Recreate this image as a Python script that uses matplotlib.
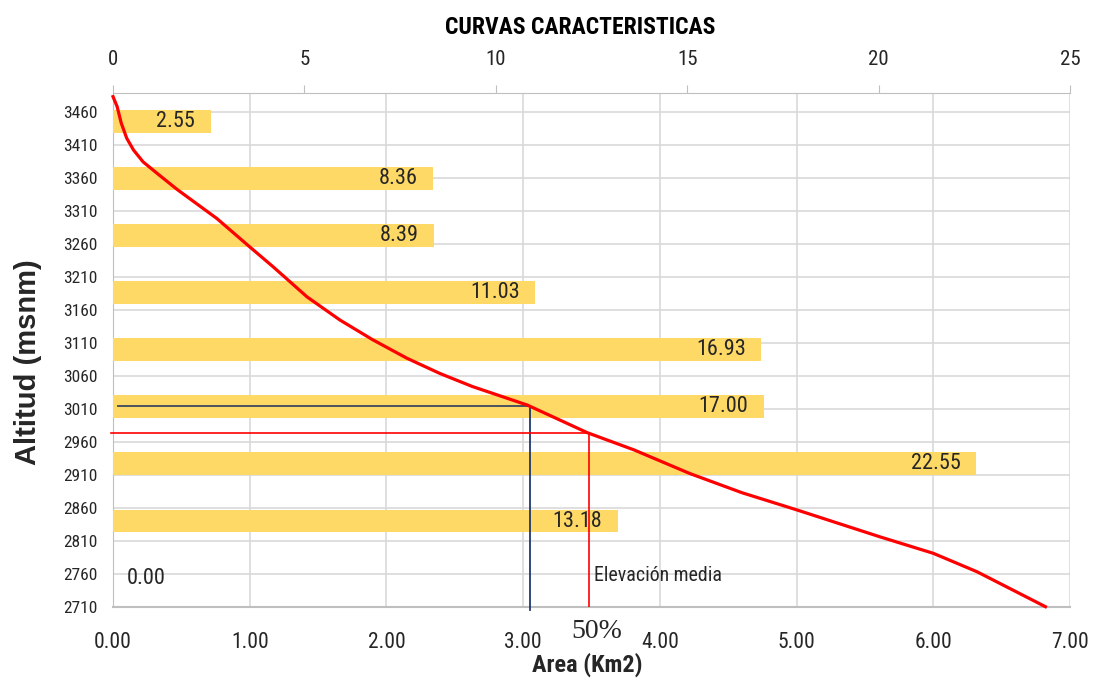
import numpy as np
import matplotlib
matplotlib.use('Agg')
import matplotlib.pyplot as plt

# Hypsometric curve (area km2 vs altitude msnm)
area = [0.00, 0.03, 0.06, 0.10, 0.15, 0.22, 0.32, 0.47, 0.76, 1.00, 1.17, 1.42,
        1.66, 1.90, 2.15, 2.39, 2.63, 3.03, 3.47, 3.81, 4.22, 4.60, 5.00,
        5.61, 6.00, 6.32, 6.82]
altitud = [3484, 3469, 3444, 3421, 3403, 3385, 3368, 3343, 3299, 3256, 3226, 3180,
           3145, 3115, 3087, 3064, 3044, 3016, 2974, 2948, 2912, 2883, 2857,
           2816, 2791, 2763, 2710]

# Frequency bars (% of area per altitude band), top to bottom
porcentaje = [2.55, 8.36, 8.39, 11.03, 16.93, 17.00, 22.55, 13.18, 0.00]

# Guide lines
moda_area, moda_alt = 3.05, 3015
media_area, media_alt = 3.48, 2974

y_ticks = list(range(2710, 3461, 50))
x_ticks = list(range(0, 8))
top_ticks = [0, 5, 10, 15, 20, 25]

narrow = ['Roboto Condensed', 'DejaVu Sans']
grey = '#bfbfbf'
txt = '#262626'

fig = plt.figure(figsize=(10.94, 6.81), dpi=100)
rect = [0.1033, 0.1091, 0.8748, 0.7548]

# base axes: grid + ticks
ax = fig.add_axes(rect)
ax.set_xlim(0, 7)
ax.set_ylim(2710, 3490)
ax.set_xticks(x_ticks)
ax.set_xticklabels([f'{v:.2f}' for v in x_ticks], family=narrow, fontsize=15.5, color=txt)
ax.set_yticks(y_ticks)
ax.set_yticklabels([str(v) for v in y_ticks], family=narrow, fontsize=12.5, color=txt)
ax.grid(color='#d9d9d9', lw=1.2)
ax.tick_params(axis='x', length=0, pad=18)
ax.tick_params(axis='y', length=0, pad=11)
for s in ['top', 'right']:
    ax.spines[s].set_visible(False)
ax.spines['left'].set_color(grey)
ax.spines['bottom'].set_color(grey)
ax.spines['bottom'].set_linewidth(1.5)

# bars on top axis
axb = fig.add_axes(rect, facecolor='none')
cats = np.arange(len(porcentaje))
axb.barh(cats, porcentaje, height=0.4, color='#ffd966')
axb.set_xlim(0, 25)
axb.set_ylim(len(porcentaje) - 0.5, -0.5)
axb.set_yticks([])
axb.xaxis.tick_top()
axb.set_xticks(top_ticks)
axb.set_xticklabels([str(v) for v in top_ticks], family=narrow, fontsize=15, color=txt)
axb.tick_params(axis='x', length=6, color=grey, pad=11)
for s in ['bottom', 'left', 'right']:
    axb.spines[s].set_visible(False)
axb.spines['top'].set_color(grey)
for c, p in zip(cats, porcentaje):
    if p > 0:
        axb.annotate(f'{p:.2f}', (p, c), xytext=(-11, 0), textcoords='offset points',
                     ha='right', va='center', family=narrow, fontsize=16, color=txt)
    else:
        axb.annotate(f'{p:.2f}', (p, c), xytext=(10, 0), textcoords='offset points',
                     ha='left', va='center', family=narrow, fontsize=16, color=txt)

# curve and guide lines on top
axl = fig.add_axes(rect, facecolor='none', sharex=ax, sharey=ax)
axl.axis('off')
axl.plot([0.04, moda_area], [moda_alt, moda_alt], color='#3b4660', lw=1.3)
axl.plot([moda_area, moda_area], [moda_alt, 2705], color='#203870', lw=1.3, clip_on=False)
axl.plot([-0.015, media_area], [media_alt, media_alt], color='red', lw=1.2, clip_on=False)
axl.plot([media_area, media_area], [media_alt, 2710], color='red', lw=1.2)
axl.plot(area, altitud, color='red', lw=2.3, clip_on=False, solid_joinstyle='round')
axl.annotate('Elevación media', (media_area, 2757), xytext=(4, 0), textcoords='offset points',
             ha='left', va='center', family=narrow, fontsize=14.3, color=txt)

fig.text(597 / 1094, 1 - 632 / 681, '50%', ha='center', va='center',
         family=['Liberation Serif', 'DejaVu Serif'], fontsize=20, color=txt)
fig.text(580 / 1094, 1 - 27 / 681, 'CURVAS CARACTERISTICAS', ha='center', va='center',
         family=narrow, fontweight='bold', fontsize=17)
fig.text(587 / 1094, 1 - 665 / 681, 'Area (Km2)', ha='center', va='center',
         family=narrow, fontweight='bold', fontsize=17.5, color=txt)
fig.text(28 / 1094, 1 - 362 / 681, 'Altitud (msnm)', ha='center', va='center', rotation=90,
         family=['Liberation Sans', 'DejaVu Sans'], fontweight='bold', fontsize=21, color=txt)

fig.savefig('out.png', dpi=100)
